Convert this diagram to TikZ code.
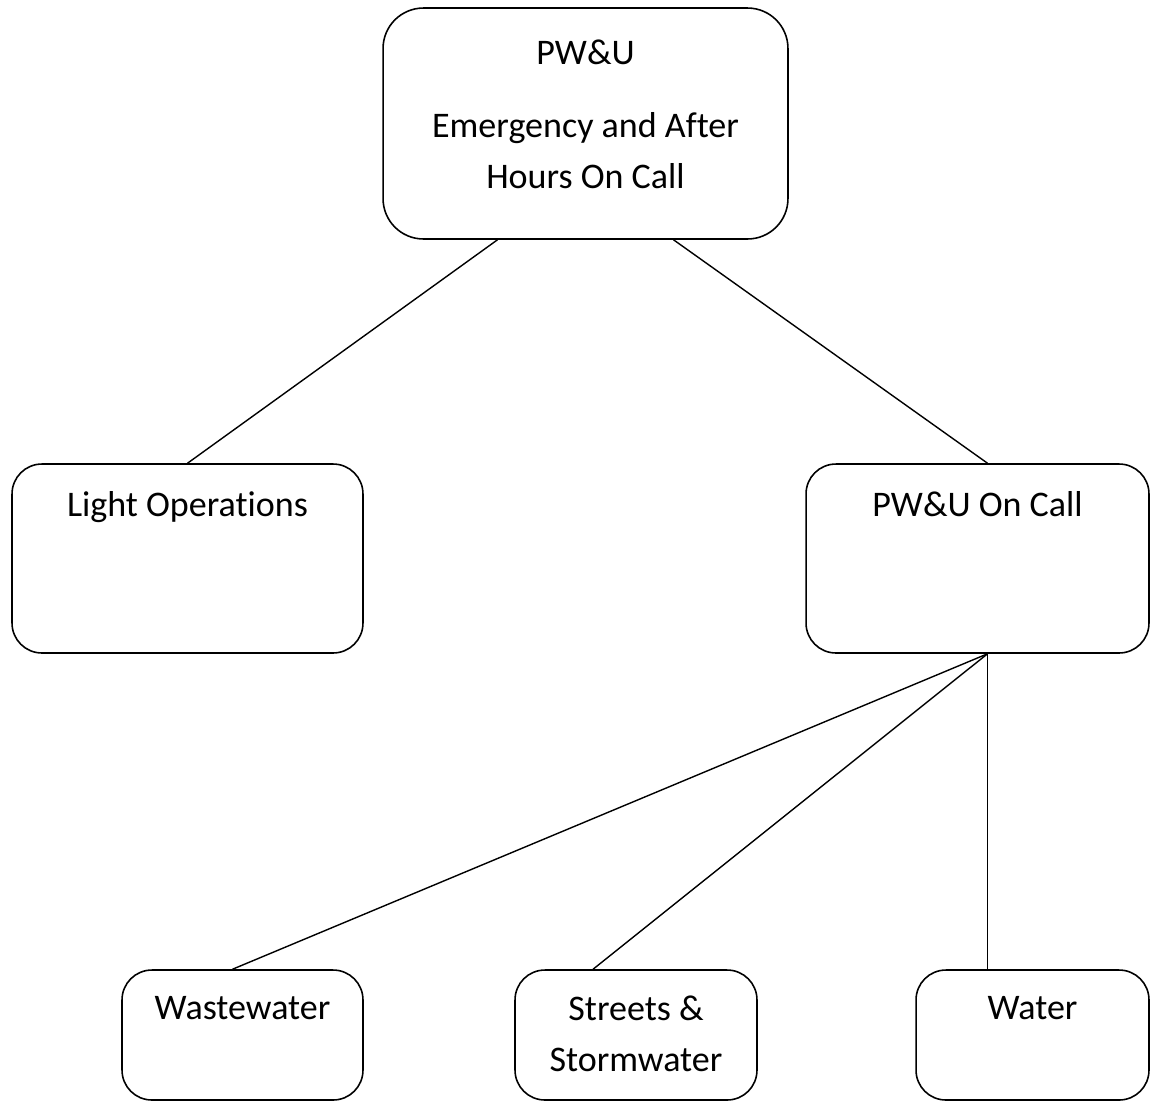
\documentclass[tikz,border=0pt]{standalone}
\usepackage{fontspec}
\setmainfont{Carlito}[Ligatures=NoCommon]
\usetikzlibrary{calc}
\tikzstyle{unit} = [rectangle, rounded corners=17pt, draw=black, line width=0.9pt, inner sep=0pt]
\tikzstyle{bigunit} = [unit, rounded corners=23pt]
\tikzstyle{title} = [anchor=north, align=center, inner sep=0pt, font=\fontsize{20.5}{29}\selectfont]
\tikzstyle{link} = [line width=0.8pt]

\begin{document}
\begin{tikzpicture}[x=0.02cm, y=-0.02cm]
\useasboundingbox (0,0) rectangle (1151,1103);

\node at (585.5, 123.5) (head) [bigunit, minimum width=8.1cm, minimum height=4.62cm] {};
\node at (187.5, 558.5) (light) [unit, minimum width=7.02cm, minimum height=3.78cm] {};
\node at (977.5, 558.5) (oncall) [unit, minimum width=6.86cm, minimum height=3.78cm] {};
\node at (242.5, 1035) (waste) [unit, minimum width=4.82cm, minimum height=2.6cm] {};
\node at (636, 1035) (streets) [unit, minimum width=4.84cm, minimum height=2.6cm] {};
\node at (1032.5, 1035) (water) [unit, minimum width=4.66cm, minimum height=2.6cm] {};

\node at ($(head.north)+(0,32)$) (headtext) [title] {PW\&U\\[13pt]Emergency and After\\Hours On Call};
\node at ($(light.north)+(0,28)$) (lighttext) [title] {Light Operations};
\node at ($(oncall.north)+(0,28)$) (oncalltext) [title] {PW\&U On Call};
\node at ($(waste.north)+(0,27)$) (wastetext) [title] {Wastewater};
\node at ($(streets.north)+(0,26.5)$) (streetstext) [title] {Streets \&\\Stormwater};
\node at ($(water.north)+(0,27)$) (watertext) [title] {Water};

\coordinate (hub) at ($(oncall.south)+(10,0)$);

\draw [link] ($(head.south)+(-88,0)$) -- (light.north);
\draw [link] ($(head.south)+(88,0)$) -- ($(oncall.north)+(10,0)$);
\draw [link] (hub) -- ($(waste.north)+(-10,0)$);
\draw [link] (hub) -- ($(streets.north)+(-43,0)$);
\draw [link] (hub) -- ($(water.north)+(-45,0)$);

\end{tikzpicture}
\end{document}
